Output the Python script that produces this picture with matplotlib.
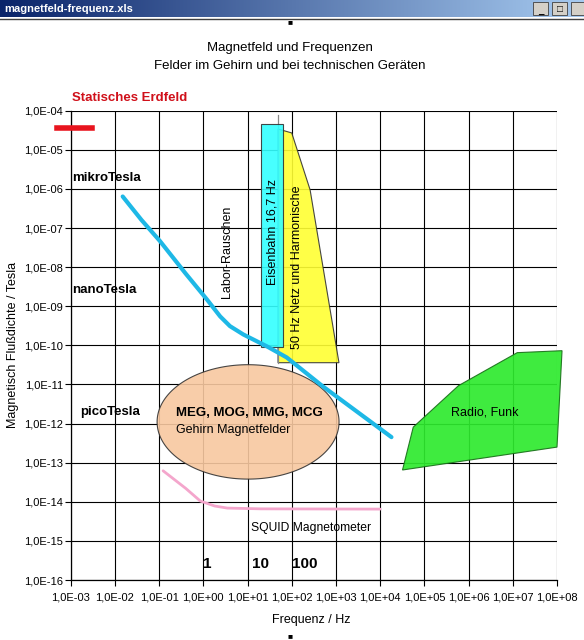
import numpy as np
import matplotlib
matplotlib.use('Agg')
import matplotlib.pyplot as plt
from matplotlib.patches import Polygon, Rectangle
from matplotlib.ticker import FixedLocator, FuncFormatter, NullLocator

plt.rcParams['font.family'] = ['Liberation Sans', 'DejaVu Sans']

# axis ranges (Hz / Tesla)
x_ticks = [10.0 ** e for e in range(-3, 9)]
y_ticks = [10.0 ** e for e in range(-16, -3)]

# Labor-Rauschen (noise curve)
noise_f = [0.015, 0.04, 0.105, 0.4, 1.2, 2.4, 4.0, 8, 16, 27, 77, 500, 1.8e4]
noise_b = [6.4e-7, 1.6e-7, 4.6e-8, 6.8e-9, 1.5e-9, 5.5e-10, 3.1e-10, 1.9e-10, 1.28e-10,
           9.5e-11, 4.9e-11, 9e-12, 4.5e-13]

# SQUID Magnetometer sensitivity
squid_f = [0.123, 0.4, 0.85, 1.8, 3.5, 20, 1e4]
squid_b = [6.2e-14, 2.2e-14, 1.05e-14, 7.8e-15, 6.9e-15, 6.6e-15, 6.5e-15]

# Statisches Erdfeld
earth_f = [4.9e-4, 3e-3]
earth_b = [3.6e-5, 3.6e-5]

# Eisenbahn 16,7 Hz (box)
rail_f = [20, 65]
rail_b = [8.9e-11, 4.6e-5]

# 50 Hz Netz und Harmonische
mains_f = [49, 100, 260, 1170, 1170, 49]
mains_b = [3.4e-5, 2.7e-5, 9.5e-7, 3.6e-11, 3.6e-11, 3.6e-11]
line50_f = [50, 50]
line50_b = [7.8e-5, 3.6e-11]

# Radio, Funk
radio_f = [3.2e4, 5.6e4, 5.9e5, 1.26e7, 1.3e8, 1.0e8]
radio_b = [6.5e-14, 8.1e-13, 9.3e-12, 6.5e-11, 7.3e-11, 2.5e-13]

# Gehirn Magnetfelder (ellipse bounds)
brain_f = [0.09, 1175]
brain_b = [3.8e-14, 3.2e-11]

fig = plt.figure(figsize=(5.84, 6.4), dpi=100)

# window title bar
bar = fig.add_axes([0, 1 - 17 / 640, 1, 17 / 640])
grad = np.linspace(0, 1, 256).reshape(1, -1)
cmap = matplotlib.colors.LinearSegmentedColormap.from_list('bar', ['#0A246A', '#A6CAF0'])
bar.imshow(grad, aspect='auto', cmap=cmap, extent=[0, 1, 0, 1])
bar.text(0.007, 0.5, 'magnetfeld-frequenz.xls', color='white', fontsize=8,
         fontweight='bold', va='center', ha='left')
for bx in [0.925, 0.957, 0.989]:
    bar.add_patch(Rectangle((bx - 0.012, 0.12), 0.026, 0.76, facecolor='#D4D0C8',
                            edgecolor='#404040', lw=0.6))
bar.text(0.926, 0.35, '_', fontsize=7, ha='center', va='center', fontweight='bold')
bar.text(0.958, 0.5, '\u25a1', fontsize=7, ha='center', va='center')
bar.set_xlim(0, 1)
bar.set_ylim(0, 1)
bar.axis('off')
fig.add_artist(plt.Line2D([0, 1], [1 - 19 / 640, 1 - 19 / 640], color='#404040', lw=1))
fig.text(290 / 584, 1 - 23 / 640, '\u25a0', fontsize=6, ha='center', va='center')
fig.text(290 / 584, 1 - 637 / 640, '\u25a0', fontsize=6, ha='center', va='center')

ax = fig.add_axes([70.7 / 584, 0.09375, (557 - 70.7) / 584, 0.7333])
ax.set_xscale('log')
ax.set_yscale('log')
ax.set_xlim(x_ticks[0], x_ticks[-1])
ax.set_ylim(y_ticks[0], y_ticks[-1])

fmt = FuncFormatter(lambda v, p: ('%.1E' % v).replace('.', ','))
ax.xaxis.set_major_locator(FixedLocator(x_ticks))
ax.yaxis.set_major_locator(FixedLocator(y_ticks))
ax.xaxis.set_minor_locator(NullLocator())
ax.yaxis.set_minor_locator(NullLocator())
ax.xaxis.set_major_formatter(fmt)
ax.yaxis.set_major_formatter(fmt)
ax.tick_params(labelsize=8, length=4, width=0.8, direction='out')
ax.tick_params(axis='x', pad=5)
ax.tick_params(axis='y', pad=1.5)
ax.grid(True, color='black', lw=0.8)
ax.set_axisbelow(True)
for s in ['top', 'right']:
    ax.spines[s].set_visible(False)
for s in ['left', 'bottom']:
    ax.spines[s].set_linewidth(0.9)

# patches
ax.add_patch(Polygon(list(zip(mains_f, mains_b)), closed=True, facecolor='#FFFF33',
                     edgecolor='#333333', lw=0.8, alpha=0.9, zorder=2))
ax.plot(line50_f, line50_b, color='#888888', lw=0.9, zorder=2)
ax.add_patch(Rectangle((rail_f[0], rail_b[0]), rail_f[1] - rail_f[0], rail_b[1] - rail_b[0],
                       facecolor='#33FFFF', edgecolor='#333333', lw=0.8, alpha=0.9, zorder=3))
ax.add_patch(Polygon(list(zip(radio_f, radio_b)), closed=True, facecolor='#2EEA2E',
                     edgecolor='#1A701A', lw=0.8, alpha=0.92, zorder=2, clip_on=False))

lf = np.log10(brain_f)
lb = np.log10(brain_b)
t = np.linspace(0, 2 * np.pi, 200)
ell_f = 10 ** (lf.mean() + (lf[1] - lf[0]) / 2 * np.cos(t))
ell_b = 10 ** (lb.mean() + (lb[1] - lb[0]) / 2 * np.sin(t))
ax.fill(ell_f, ell_b, facecolor='#F8C8A0', edgecolor='#333333', lw=0.8, alpha=0.9, zorder=2)

ax.plot(noise_f, noise_b, color='#1EB8E6', lw=3, solid_capstyle='round',
        solid_joinstyle='round', zorder=4)
ax.plot(squid_f, squid_b, color='#F4A6CC', lw=2, solid_capstyle='round', zorder=4)
ax.plot(earth_f, earth_b, color='#E8141E', lw=4, clip_on=False, zorder=4)

# texts
ax.text(1.07e-3, 2.1e-4, 'Statisches Erdfeld', color='#D0101A', fontsize=9.5,
        fontweight='bold', va='center', clip_on=False)
ax.text(1.07e-3, 1.9e-6, 'mikroTesla', fontsize=9.5, fontweight='bold', va='center')
ax.text(1.07e-3, 2.6e-9, 'nanoTesla', fontsize=9.5, fontweight='bold', va='center')
ax.text(1.62e-3, 2.0e-12, 'picoTesla', fontsize=9.5, fontweight='bold', va='center')
ax.text(3.5, 2.5e-8, 'Labor-Rauschen', fontsize=9, rotation=90, ha='center', va='center', zorder=5)
ax.text(36, 8e-8, 'Eisenbahn 16,7 Hz', fontsize=9, rotation=90, ha='center', va='center', zorder=5)
ax.text(132, 1.0e-8, '50 Hz Netz und Harmonische', fontsize=9, rotation=90,
        ha='center', va='center', zorder=5)
ax.text(0.24, 1.9e-12, 'MEG, MOG, MMG, MCG', fontsize=9.5, fontweight='bold', va='center', zorder=5)
ax.text(0.24, 6.7e-13, 'Gehirn Magnetfelder', fontsize=9, va='center', zorder=5)
ax.text(2.3e6, 1.9e-12, 'Radio, Funk', fontsize=9, ha='center', va='center', zorder=5)
ax.text(12, 2.1e-15, 'SQUID Magnetometer', fontsize=8.7, va='center', zorder=5)
for lab, fx in zip(['1', '10', '100'], [1.23, 20, 200]):
    ax.text(fx, 2.5e-16, lab, fontsize=11, fontweight='bold', ha='center', va='center', zorder=5)

fig.text(290 / 584, 1 - 48 / 640, 'Magnetfeld und Frequenzen', fontsize=9.5, ha='center', va='center')
fig.text(290 / 584, 1 - 66 / 640, 'Felder im Gehirn und bei technischen Ger\u00e4ten', fontsize=9.5,
         ha='center', va='center')
fig.text(311 / 584, 1 - 620 / 640, 'Frequenz / Hz', fontsize=9, ha='center', va='center')
fig.text(13 / 584, 1 - 345 / 640, 'Magnetisch Flu\u00dfdichte / Tesla', fontsize=9,
         rotation=90, ha='center', va='center')

fig.savefig('out.png', dpi=100)
